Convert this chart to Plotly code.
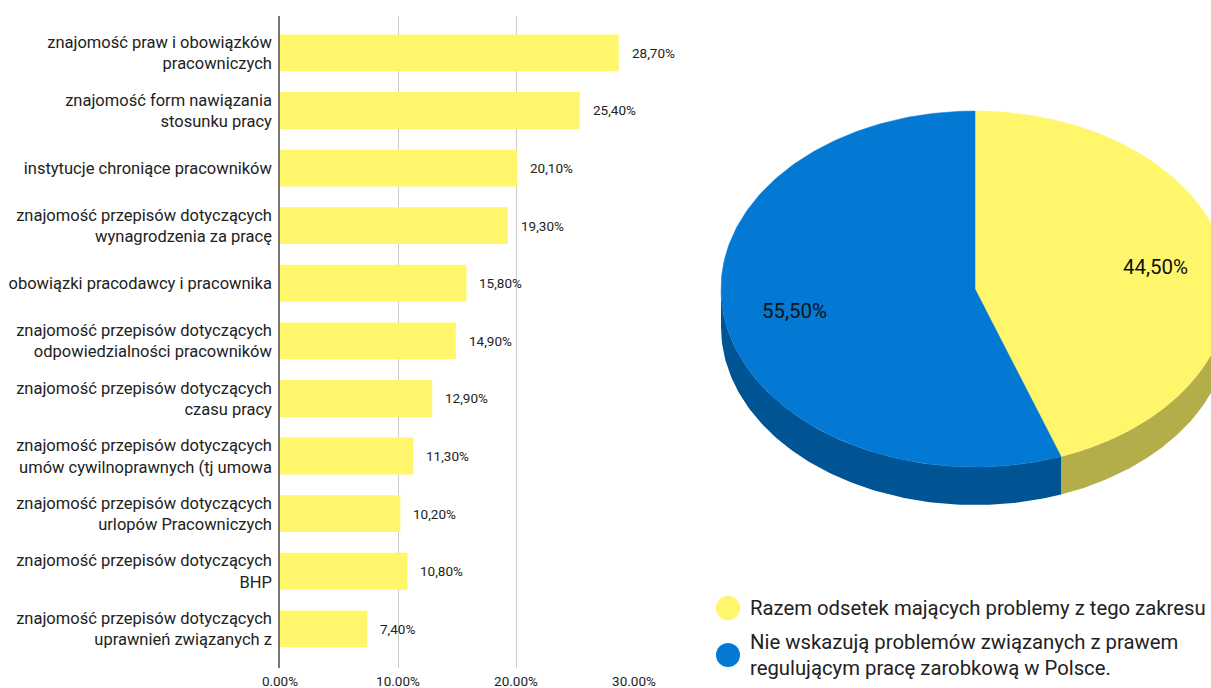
import numpy as np
import plotly.graph_objects as go

# ---------------- data ----------------
categories = [
    "znajomość praw i obowiązków<br>pracowniczych",
    "znajomość form nawiązania<br>stosunku pracy",
    "instytucje chroniące pracowników",
    "znajomość przepisów dotyczących<br>wynagrodzenia za pracę",
    "obowiązki pracodawcy i pracownika",
    "znajomość przepisów dotyczących<br>odpowiedzialności pracowników",
    "znajomość przepisów dotyczących<br>czasu pracy",
    "znajomość przepisów dotyczących<br>umów cywilnoprawnych (tj umowa",
    "znajomość przepisów dotyczących<br>urlopów Pracowniczych",
    "znajomość przepisów dotyczących<br>BHP",
    "znajomość przepisów dotyczących<br>uprawnień związanych z",
]
bar_values = [28.7, 25.4, 20.1, 19.3, 15.8, 14.9, 12.9, 11.3, 10.2, 10.8, 7.4]
x_tickvals = [0, 10, 20, 30]
x_ticktext = ["0.00%", "10.00%", "20.00%", "30.00%"]

pie_labels = [
    "Razem odsetek mających problemy z tego zakresu",
    "Nie wskazują problemów związanych z prawem<br>regulującym pracę zarobkową w Polsce.",
]
pie_values = [44.5, 55.5]

# ---------------- style ----------------
FONT = "Roboto"
YELLOW = "#fff66b"
BLUE = "#0379d4"
YELLOW_SIDE = "#b3ad4a"
BLUE_SIDE = "#005494"
top_colors = [YELLOW, BLUE]
side_colors = [YELLOW_SIDE, BLUE_SIDE]

W, H = 1211, 688

fig = go.Figure()

# ---------------- bar chart ----------------
fig.add_trace(go.Bar(
    x=bar_values, y=categories, orientation="h",
    marker=dict(color=YELLOW, line=dict(width=0)),
    width=0.64, showlegend=False, hoverinfo="x+y",
    xaxis="x", yaxis="y",
))

annotations = []
for cat, v in zip(categories, bar_values):
    annotations.append(dict(
        x=v, y=cat, xref="x", yref="y", text=f"{v:.2f}".replace(".", ",") + "%",
        showarrow=False, xanchor="left", yanchor="middle", xshift=11,
        font=dict(family=FONT, size=13.5, color="#222222"),
    ))

# ---------------- pseudo 3D pie ----------------
cx, cy, rx, ry, depth = 975.0, 289.0, 254.0, 178.0, 38.0
fracs = np.array(pie_values) / np.sum(pie_values)
starts = np.concatenate([[0.0], np.cumsum(fracs)[:-1]]) * 2 * np.pi
ends = np.cumsum(fracs) * 2 * np.pi


def ell(theta, dy=0.0):
    return cx + rx * np.sin(theta), cy - ry * np.cos(theta) + dy


# sides (front half only: theta in [pi/2, 3pi/2])
for a, b, col in zip(starts, ends, side_colors):
    lo, hi = max(a, np.pi / 2), min(b, 3 * np.pi / 2)
    if hi <= lo:
        continue
    t = np.linspace(lo, hi, 120)
    x1, y1 = ell(t)
    x2, y2 = ell(t[::-1], depth)
    xs = np.concatenate([x1, x2, x1[:1]])
    ys = np.concatenate([y1, y2, y1[:1]])
    fig.add_trace(go.Scatter(
        x=xs, y=ys, mode="lines", fill="toself", fillcolor=col,
        line=dict(width=0, color=col), showlegend=False, hoverinfo="skip",
        xaxis="x2", yaxis="y2",
    ))

# top faces
for a, b, col, v in zip(starts, ends, top_colors, pie_values):
    t = np.linspace(a, b, 200)
    ex, ey = ell(t)
    xs = np.concatenate([[cx], ex, [cx]])
    ys = np.concatenate([[cy], ey, [cy]])
    fig.add_trace(go.Scatter(
        x=xs, y=ys, mode="lines", fill="toself", fillcolor=col,
        line=dict(width=0.5, color=col), showlegend=False, hoverinfo="skip",
        xaxis="x2", yaxis="y2",
    ))
    mid = (a + b) / 2
    lx = cx + 0.72 * rx * np.sin(mid)
    ly = cy - 0.72 * ry * np.cos(mid)
    annotations.append(dict(
        x=lx, y=ly, xref="x2", yref="y2", text=f"{v:.2f}".replace(".", ",") + "%",
        showarrow=False, xanchor="center", yanchor="middle",
        font=dict(family=FONT, size=20.5, color="#111111"),
    ))

# legend (custom)
leg_x = 728
leg_y = [608, 655]
fig.add_trace(go.Scatter(
    x=[leg_x] * len(pie_labels), y=leg_y, mode="markers",
    marker=dict(size=24, color=top_colors, line=dict(width=0)),
    showlegend=False, hoverinfo="skip", xaxis="x2", yaxis="y2",
))
for lab, yy in zip(pie_labels, leg_y):
    annotations.append(dict(
        x=leg_x + 20, y=yy, xref="x2", yref="y2", text=lab,
        showarrow=False, xanchor="left", yanchor="middle", align="left",
        font=dict(family=FONT, size=20.3, color="#222222"),
    ))

# ---------------- layout ----------------
n = len(categories)
X2_START = 0.56
fig.update_layout(
    width=W, height=H,
    margin=dict(l=0, r=0, t=0, b=0, autoexpand=False),
    paper_bgcolor="white", plot_bgcolor="rgba(0,0,0,0)",
    font=dict(family=FONT, color="#222222"),
    xaxis=dict(
        domain=[280 / W, 634 / W], range=[0, 30], anchor="y",
        tickvals=x_tickvals, ticktext=x_ticktext,
        tickfont=dict(family=FONT, size=13.5, color="#222222"),
        showgrid=True, gridcolor="#cccccc", gridwidth=1, zeroline=False,
        showline=False, ticks="", fixedrange=True, automargin=False,
        ticklabelstandoff=3,
    ),
    yaxis=dict(
        domain=[(H - 668) / H, (H - 16) / H], anchor="x",
        type="category", categoryorder="array", categoryarray=categories,
        range=[n - 1 + 0.68, -0.64], autorange=False,
        tickfont=dict(family=FONT, size=16.5, color="#222222"),
        showline=True, linecolor="#777777", linewidth=1.5,
        showgrid=False, zeroline=False, ticks="", fixedrange=True,
        automargin=False, ticklabelstandoff=3,
    ),
    xaxis2=dict(
        domain=[X2_START, 1.0], range=[X2_START * W, W], anchor="y2",
        visible=False, fixedrange=True, automargin=False,
    ),
    yaxis2=dict(
        domain=[0, 1], range=[H, 0], anchor="x2", autorange=False,
        visible=False, fixedrange=True, automargin=False,
    ),
    annotations=annotations,
)

fig.write_html(
    "out.html",
    config={"displayModeBar": False},
    post_script="document.body.style.margin='0';document.body.style.overflow='hidden';",
)
